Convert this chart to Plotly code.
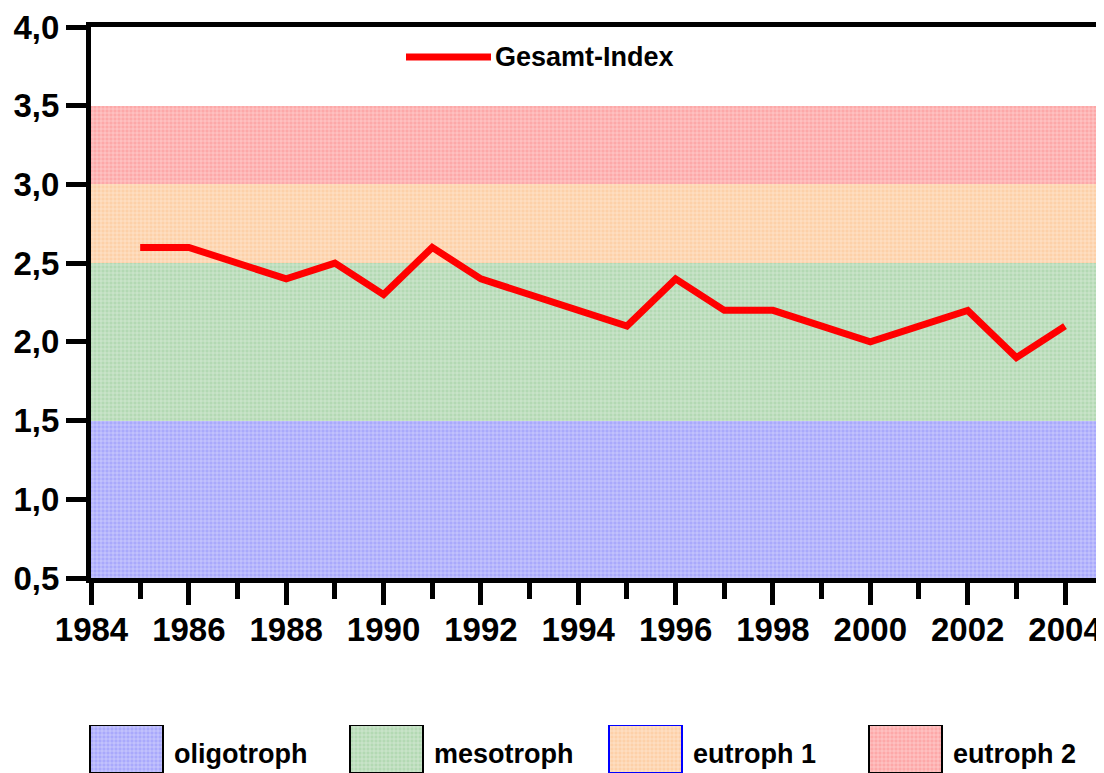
import plotly.graph_objects as go

# Gesamt-Index (Trophie) je Jahr
years = [1985, 1986, 1988, 1989, 1990, 1991, 1992, 1995, 1996, 1997, 1998, 2000, 2002, 2003, 2004]
index_values = [2.6, 2.6, 2.4, 2.5, 2.3, 2.6, 2.4, 2.1, 2.4, 2.2, 2.2, 2.0, 2.2, 1.9, 2.1]
series_name = "Gesamt-Index"

# Trophiestufen
band_names = ["oligotroph", "mesotroph", "eutroph 1", "eutroph 2"]
band_low = [0.5, 1.5, 2.5, 3.0]
band_high = [1.5, 2.5, 3.0, 3.5]
band_colors = ["#a9a9fc", "#b3d9b3", "#fdd0a8", "#fda8a8"]
band_borders = ["black", "black", "blue", "black"]

x_tick_vals = list(range(1984, 2005, 2))
x_minor_vals = list(range(1985, 2005, 2))
y_tick_vals = [0.5, 1.0, 1.5, 2.0, 2.5, 3.0, 3.5, 4.0]
y_tick_text = ["0,5", "1,0", "1,5", "2,0", "2,5", "3,0", "3,5", "4,0"]

# die Seite hat 8px Rand, daher etwas kleiner
W, H = 1096, 765
OFF = 8
FAM = "Liberation Sans, Arial, sans-serif"

fig = go.Figure()

# farbige Bänder im Diagramm
for name, lo, hi, col in zip(band_names, band_low, band_high, band_colors):
    fig.add_trace(go.Bar(
        x=[1994.5], y=[hi - lo], base=[lo], width=[40],
        marker=dict(color=col, line=dict(width=0),
                    pattern=dict(shape="+", bgcolor=col, fgcolor="white",
                                 size=4, solidity=0.3)),
        showlegend=False, hoverinfo="skip", xaxis="x", yaxis="y",
    ))

fig.add_trace(go.Scatter(
    x=years, y=index_values, mode="lines", name=series_name,
    line=dict(color="#ff0000", width=7), showlegend=False,
))

# Legende unten (eigene Achse, Pixelkoordinaten)
legend_x = [126 - OFF, 386 - OFF, 645 - OFF, 905 - OFF]
for name, col, bc, lx in zip(band_names, band_colors, band_borders, legend_x):
    fig.add_trace(go.Bar(
        x=[lx], y=[1], base=[0], width=[73],
        marker=dict(color=col, line=dict(color=bc, width=2),
                    pattern=dict(shape="+", bgcolor=col, fgcolor="white",
                                 size=4, solidity=0.3)),
        showlegend=False, hoverinfo="skip", xaxis="x2", yaxis="y2",
    ))
    fig.add_annotation(x=lx + 46, y=0.4, xref="x2", yref="y2", text="<b>%s</b>" % name,
                       showarrow=False, xanchor="left", yanchor="middle",
                       font=dict(size=27, family=FAM, color="black"))

# Linienlegende oben
ly = 1 - (57 - OFF) / H
fig.add_shape(type="line", xref="paper", yref="paper",
              x0=(406 - OFF) / W, x1=(491 - OFF) / W, y0=ly, y1=ly,
              line=dict(color="#ff0000", width=7))
fig.add_annotation(x=(493 - OFF) / W, y=ly, xref="paper", yref="paper",
                   text="<b>%s</b>" % series_name, showarrow=False,
                   xanchor="left", yanchor="middle",
                   font=dict(size=27, family=FAM, color="black"))

px_per_year = (1064 - 90) / 20
x_range = [1984 - 0.5 / px_per_year, 1984 + (1104 - 91) / px_per_year]

fig.update_layout(
    width=W, height=H,
    margin=dict(l=0, r=0, t=0, b=0, pad=0),
    paper_bgcolor="white", plot_bgcolor="white",
    barmode="overlay", bargap=0,
    showlegend=False,
    xaxis=dict(
        domain=[(91 - OFF) / W, 1], range=x_range, automargin=False,
        tickvals=x_tick_vals, tickformat="d",
        ticks="outside", ticklen=22, tickwidth=5, tickcolor="black",
        ticklabelstandoff=-4,
        minor=dict(tickvals=x_minor_vals, ticks="outside", ticklen=16,
                   tickwidth=5, tickcolor="black"),
        showline=True, linecolor="black", linewidth=5, mirror=True,
        showgrid=False, zeroline=False,
        tickfont=dict(size=33, family=FAM, color="black", weight="bold"),
    ),
    yaxis=dict(
        domain=[1 - (578 - OFF) / H, 1 - (27 - OFF) / H], range=[0.5, 4.0],
        automargin=False,
        tickvals=y_tick_vals, ticktext=y_tick_text,
        ticks="outside", ticklen=20, tickwidth=5, tickcolor="black",
        showline=True, linecolor="black", linewidth=5,
        showgrid=False, zeroline=False,
        tickfont=dict(size=33, family=FAM, color="black", weight="bold"),
    ),
    xaxis2=dict(domain=[0, 1], range=[0, W], visible=False, anchor="y2",
                automargin=False),
    yaxis2=dict(domain=[0, (773 - 725) / H], range=[0, 1], visible=False,
                anchor="x2", automargin=False),
)

fig.write_html("out.html")
